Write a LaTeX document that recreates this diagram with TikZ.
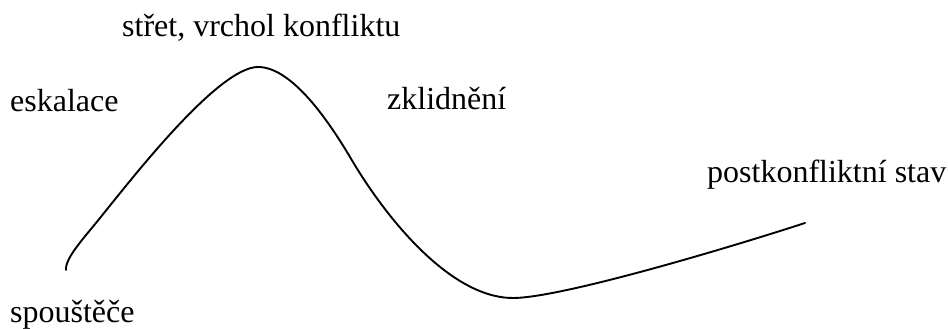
\documentclass[tikz,border=0pt]{standalone}
\usepackage{fontspec}
\setmainfont{Liberation Serif}
\tikzset{
  lbl/.style={anchor=base west, inner sep=0pt, font=\fontsize{32}{38}\selectfont},
  curveline/.style={line width=1.9pt, line cap=round, line join=round}
}
\begin{document}
\begin{tikzpicture}[x=1pt,y=-1pt]
\useasboundingbox (0,0) rectangle (948,329);
\node[lbl] (vrchol) at (122,37) {střet, vrchol konfliktu};
\node[lbl] (eskalace) at (10,111) {eskalace};
\node[lbl] (zklidneni) at (387,110) {zklidnění};
\node[lbl] (post) at (707,182) {postkonfliktní stav};
\node[lbl] (spoustece) at (10,322) {spouštěče};
\coordinate (start) at (66,270);
\coordinate (kink) at (100,218);
\coordinate (peak) at (258,67);
\coordinate (infl) at (350,157);
\coordinate (low) at (513,298);
\coordinate (finish) at (805,223);
\draw[curveline] (start)
  .. controls (65,258) and (84,238) .. (kink)
  .. controls (130,181) and (218,67) .. (peak)
  .. controls (290,67) and (325,115) .. (infl)
  .. controls (385,217) and (450,298) .. (low)
  .. controls (560,298) and (725,249) .. (finish);
\end{tikzpicture}
\end{document}
